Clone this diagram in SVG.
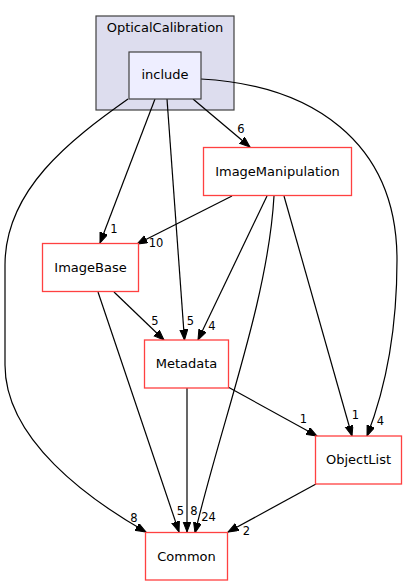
<svg xmlns="http://www.w3.org/2000/svg" width="407" height="585" viewBox="0 0 407 585">
<style>
  .lbl { font-family: "DejaVu Sans", sans-serif; font-size: 13px; fill: #000; text-anchor: middle; }
  .elbl { font-family: "DejaVu Sans", sans-serif; font-size: 11.5px; fill: #000; text-anchor: middle; }
  .dir { fill: #ffffff; stroke: #ff4040; stroke-width: 1.3; }
  .edge { fill: none; stroke: #000; stroke-width: 1.2; marker-end: url(#arr); }
</style>
<defs>
  <marker id="arr" markerUnits="userSpaceOnUse" markerWidth="12" markerHeight="10" refX="10.5" refY="4" orient="auto">
    <path d="M0,0 L10.5,4 L0,8 z" fill="#000" stroke="#000" stroke-width="1"/>
  </marker>
</defs>
<rect width="407" height="585" fill="#ffffff"/>
<g id="cluster_OpticalCalibration">
  <rect x="96" y="16" width="138" height="94" fill="#ddddee" stroke="#404040" stroke-width="1.2"/>
  <text class="lbl" x="165" y="32">OpticalCalibration</text>
</g>
<g id="edges">
  <path class="edge" d="M193,99 L250,147"/>
  <path class="edge" d="M155,99 L100,243"/>
  <path class="edge" d="M167,99 L184.5,340"/>
  <path class="edge" d="M201,79 C310,85 397,140 397,260 C397,330 385,390 367,436"/>
  <path class="edge" d="M128,99 C70,140 5,190 5,265 L5,365 C5,440 90,500 146,532"/>
  <path class="edge" d="M232,196 L137,244"/>
  <path class="edge" d="M267,196 L198,340"/>
  <path class="edge" d="M274,196 C268,300 222,420 195,533"/>
  <path class="edge" d="M284,196 L352,436"/>
  <path class="edge" d="M114,292 L164,340"/>
  <path class="edge" d="M98,292 L179,532"/>
  <path class="edge" d="M228,387 L317,436"/>
  <path class="edge" d="M187,388 L187,532"/>
  <path class="edge" d="M316,484 L228,532"/>
  <text class="elbl" x="241" y="132.5">6</text>
  <text class="elbl" x="114" y="233">1</text>
  <text class="elbl" x="156" y="246.5">10</text>
  <text class="elbl" x="155" y="324.5">5</text>
  <text class="elbl" x="190.5" y="324.5">5</text>
  <text class="elbl" x="212" y="329.5">4</text>
  <text class="elbl" x="303.5" y="422.5">1</text>
  <text class="elbl" x="355.5" y="419">1</text>
  <text class="elbl" x="380.5" y="424.5">4</text>
  <text class="elbl" x="134" y="521.5">8</text>
  <text class="elbl" x="180.5" y="515">5</text>
  <text class="elbl" x="194" y="515">8</text>
  <text class="elbl" x="208.5" y="520.5">24</text>
  <text class="elbl" x="246.5" y="534.5">2</text>
</g>
<g id="include">
  <rect x="129" y="52" width="72" height="47" fill="#eeeeff" stroke="#404040" stroke-width="1.2"/>
  <text class="lbl" x="165" y="79">include</text>
</g>
<g id="ImageManipulation">
  <rect class="dir" x="203.5" y="147.5" width="148" height="48"/>
  <text class="lbl" x="277.5" y="175.5">ImageManipulation</text>
</g>
<g id="ImageBase">
  <rect class="dir" x="42.5" y="243.5" width="96" height="48"/>
  <text class="lbl" x="90.5" y="271.5">ImageBase</text>
</g>
<g id="Metadata">
  <rect class="dir" x="144.5" y="340" width="84" height="48"/>
  <text class="lbl" x="186.5" y="368">Metadata</text>
</g>
<g id="ObjectList">
  <rect class="dir" x="315.5" y="436" width="86" height="48"/>
  <text class="lbl" x="358.5" y="464">ObjectList</text>
</g>
<g id="Common">
  <rect class="dir" x="145.5" y="532.5" width="82" height="47.5"/>
  <text class="lbl" x="186.5" y="560.5">Common</text>
</g>
</svg>
